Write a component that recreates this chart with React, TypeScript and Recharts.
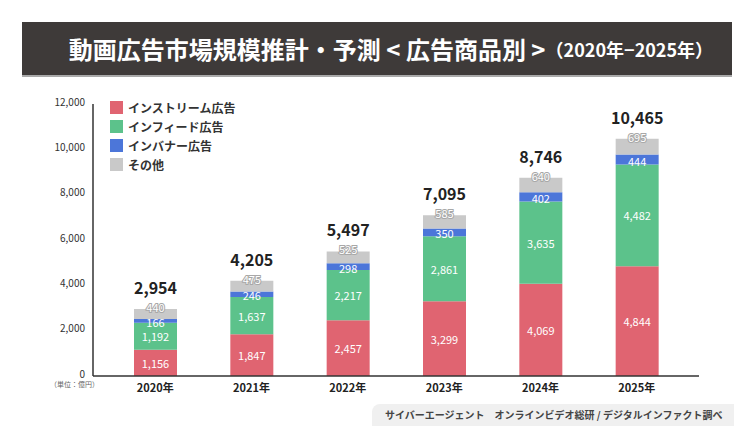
import { BarChart, Bar, XAxis, YAxis, LabelList } from 'recharts';

const years = ['2020年', '2021年', '2022年', '2023年', '2024年', '2025年'];
const instream = [1156, 1847, 2457, 3299, 4069, 4844];
const infeed = [1192, 1637, 2217, 2861, 3635, 4482];
const banner = [166, 246, 298, 350, 402, 444];
const other = [440, 475, 525, 585, 640, 695];
const totals = [2954, 4205, 5497, 7095, 8746, 10465];
const yTicks = [0, 2000, 4000, 6000, 8000, 10000, 12000];

const series = [
  { key: 'instream', name: 'インストリーム広告', color: '#e06471' },
  { key: 'infeed', name: 'インフィード広告', color: '#5cc28b' },
  { key: 'banner', name: 'インバナー広告', color: '#4c76d9' },
  { key: 'other', name: 'その他', color: '#c9c9c9' },
];

const data = years.map((year, i) => ({
  year,
  instream: instream[i],
  infeed: infeed[i],
  banner: banner[i],
  other: other[i],
  total: totals[i],
}));

const FONT = '"Noto Sans CJK JP", "Noto Sans", sans-serif';
const fmt = (v: any) => Number(v).toLocaleString('en-US');

// white number in the middle of a segment
const CenterLabel = (props: any) => {
  const { x, y, width, height, value, dy = 0 } = props;
  return (
    <text x={x + width / 2} y={y + height / 2 + dy} fill="#fff" fontSize={11} textAnchor="middle" dominantBaseline="central" fontFamily={FONT}>
      {fmt(value)}
    </text>
  );
};

// outlined number sitting on the top edge of the grey segment
const OtherLabel = (props: any) => {
  const { x, y, width, value } = props;
  return (
    <text x={x + width / 2} y={y - 2} fill="#fff" stroke="#a8a8a8" strokeWidth={2} paintOrder="stroke" fontSize={11} textAnchor="middle" dominantBaseline="central" fontFamily={FONT}>
      {fmt(value)}
    </text>
  );
};

const TotalLabel = (props: any) => {
  const { x, y, width, value } = props;
  return (
    <text x={x + width / 2} y={y - 22} fill="#222" fontSize={16} fontWeight={700} textAnchor="middle" dominantBaseline="central" fontFamily={FONT}>
      {fmt(value)}
    </text>
  );
};

export default function App() {
  return (
    <div style={{ position: 'absolute', left: 0, top: 0, width: 754, height: 444, background: '#fff', fontFamily: FONT }}>
      <div
        style={{
          position: 'absolute', left: 22, top: 22, width: 710, height: 55,
          background: '#3e3a39', borderBottom: '2px solid #a9a9a9', boxSizing: 'border-box',
          color: '#fff', fontWeight: 700, display: 'flex', alignItems: 'center', justifyContent: 'center',
          paddingLeft: 28, whiteSpace: 'nowrap',
        }}
      >
        <span style={{ fontSize: 24 }}>動画広告市場規模推計・予測 &lt; 広告商品別 &gt;</span>
        <span style={{ fontSize: 18 }}>（2020年−2025年）</span>
      </div>

      <BarChart
        width={754}
        height={444}
        data={data}
        margin={{ top: 104, right: 55, bottom: 38, left: 0 }}
        style={{ position: 'absolute', left: 0, top: 0 }}
      >
        <YAxis
          width={93}
          domain={[0, 12000]}
          ticks={yTicks}
          tickFormatter={fmt}
          tickLine={false}
          axisLine={{ stroke: '#333', strokeWidth: 1.5 }}
          tick={{ fontSize: 10, fill: '#333', fontFamily: FONT, dy: -2 }}
        />
        <XAxis
          dataKey="year"
          height={30}
          padding={{ left: 14, right: 14 }}
          tickLine={false}
          axisLine={{ stroke: '#333', strokeWidth: 1.5 }}
          tick={{ fontSize: 11, fill: '#222', fontWeight: 700, fontFamily: FONT }}
        />
        <Bar dataKey="instream" name="インストリーム広告" stackId="a" fill="#e06471" barSize={43} isAnimationActive={false}>
          <LabelList dataKey="instream" content={<CenterLabel />} />
        </Bar>
        <Bar dataKey="infeed" name="インフィード広告" stackId="a" fill="#5cc28b" barSize={43} isAnimationActive={false}>
          <LabelList dataKey="infeed" content={<CenterLabel />} />
        </Bar>
        <Bar dataKey="banner" name="インバナー広告" stackId="a" fill="#4c76d9" barSize={43} isAnimationActive={false}>
          <LabelList dataKey="banner" content={<CenterLabel dy={1} />} />
        </Bar>
        <Bar dataKey="other" name="その他" stackId="a" fill="#c9c9c9" barSize={43} isAnimationActive={false}>
          <LabelList dataKey="other" content={<OtherLabel />} />
          <LabelList dataKey="total" content={<TotalLabel />} />
        </Bar>
      </BarChart>

      <div style={{ position: 'absolute', left: 110, top: 98 }}>
        {series.map((s) => (
          <div key={s.key} style={{ display: 'flex', alignItems: 'center', height: 19 }}>
            <span style={{ width: 13, height: 13, background: s.color, display: 'inline-block', marginRight: 5 }} />
            <span style={{ fontSize: 12, fontWeight: 700, color: '#333' }}>{s.name}</span>
          </div>
        ))}
      </div>

      <div style={{ position: 'absolute', left: 50, top: 380, fontSize: 7, lineHeight: '9px', color: '#666', whiteSpace: 'nowrap' }}>（単位：億円）</div>

      <div
        style={{
          position: 'absolute', left: 372, top: 404, width: 362, height: 22,
          background: '#f0f0f0', borderTopLeftRadius: 8, boxSizing: 'border-box', paddingLeft: 13,
          fontSize: 10, fontWeight: 700, color: '#444', lineHeight: '22px', whiteSpace: 'nowrap',
        }}
      >
        サイバーエージェント　オンラインビデオ総研 / デジタルインファクト調べ
      </div>
    </div>
  );
}
